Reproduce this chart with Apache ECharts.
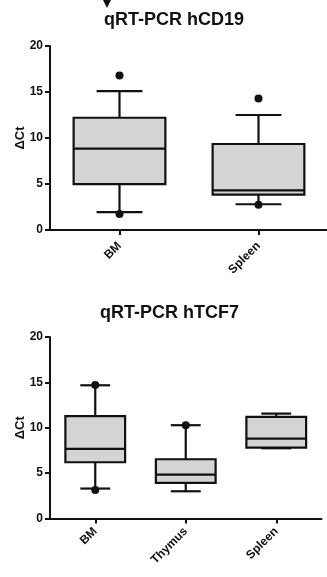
<!DOCTYPE html>
<html>
<head>
<meta charset="utf-8">
<script src="https://cdn.jsdelivr.net/npm/echarts@6/dist/echarts.min.js"></script>
<style>
  html, body { margin: 0; padding: 0; background: #fff; }
  #chart { width: 327px; height: 577px; }
</style>
</head>
<body>
<div id="chart"></div>
<script>
// hCD19 panel
const cd19Cats = ['BM', 'Spleen'];
const cd19Low = [1.95, 2.8];
const cd19Q1 = [4.98, 3.85];
const cd19Med = [8.84, 4.3];
const cd19Q3 = [12.2, 9.35];
const cd19High = [15.1, 12.5];
const cd19Dots = [['BM', 16.8], ['BM', 1.73], ['Spleen', 14.3], ['Spleen', 2.74]];

// hTCF7 panel
const tcf7Cats = ['BM', 'Thymus', 'Spleen'];
const tcf7Low = [3.3, 3.0, 7.74];
const tcf7Q1 = [6.2, 3.92, 7.82];
const tcf7Med = [7.67, 4.84, 8.81];
const tcf7Q3 = [11.27, 6.53, 11.19];
const tcf7High = [14.68, 10.28, 11.56];
const tcf7Dots = [['BM', 14.7], ['BM', 3.15], ['Thymus', 10.28]];

const yTicks = [0, 5, 10, 15, 20];

const font = 'Liberation Sans, Arial, sans-serif';
const ink = '#111';

function boxRows (cats, lo, q1, med, q3, hi) {
    return cats.map((c, i) => [i, lo[i], q1[i], med[i], q3[i], hi[i]]);
}

// draws one box with half-width whisker caps
function renderBox (params, api) {
    const x = api.value(0);
    const lo = api.coord([x, api.value(1)]);
    const q1 = api.coord([x, api.value(2)]);
    const med = api.coord([x, api.value(3)]);
    const q3 = api.coord([x, api.value(4)]);
    const hi = api.coord([x, api.value(5)]);
    const bw = api.size([1, 0])[0] * 0.66;
    const cx = lo[0];
    const half = bw / 2;
    const cap = bw / 4;
    const st = { stroke: ink, lineWidth: 2.2, fill: null };
    return {
        type: 'group',
        children: [
            { type: 'line', shape: { x1: cx, y1: hi[1], x2: cx, y2: q3[1] }, style: st },
            { type: 'line', shape: { x1: cx, y1: q1[1], x2: cx, y2: lo[1] }, style: st },
            { type: 'line', shape: { x1: cx - cap, y1: hi[1], x2: cx + cap, y2: hi[1] }, style: st },
            { type: 'line', shape: { x1: cx - cap, y1: lo[1], x2: cx + cap, y2: lo[1] }, style: st },
            {
                type: 'rect',
                shape: { x: cx - half, y: q3[1], width: bw, height: q1[1] - q3[1] },
                style: { fill: '#d4d4d4', stroke: ink, lineWidth: 2.2 }
            },
            { type: 'line', shape: { x1: cx - half, y1: med[1], x2: cx + half, y2: med[1] }, style: st }
        ]
    };
}

function yAxisFor (gridIndex) {
    return {
        type: 'value',
        gridIndex: gridIndex,
        min: 0,
        max: 20,
        interval: 5,
        name: 'ΔCt',
        nameLocation: 'middle',
        nameGap: 23,
        nameMoveOverlap: false,
        nameRotate: 90,
        nameTextStyle: { fontFamily: font, fontWeight: 'bold', fontSize: 13, color: ink },
        splitLine: { show: false },
        axisLine: { show: true, lineStyle: { color: ink, width: 2 } },
        axisTick: { show: true, length: 5, lineStyle: { color: ink, width: 2 } },
        axisLabel: {
            fontFamily: font, fontWeight: 'bold', fontSize: 12, color: ink, margin: 7,
            formatter: v => (yTicks.indexOf(v) >= 0 ? String(v) : '')
        }
    };
}

function xAxisFor (gridIndex, cats, labelMargin) {
    return {
        type: 'category',
        gridIndex: gridIndex,
        data: cats,
        axisLine: { show: true, lineStyle: { color: ink, width: 2 } },
        axisTick: { show: true, alignWithLabel: true, length: 5, lineStyle: { color: ink, width: 2 } },
        axisLabel: {
            fontFamily: font, fontWeight: 'bold', fontSize: 12, color: ink,
            rotate: 45, interval: 0, margin: labelMargin
        },
        splitLine: { show: false }
    };
}

const chart = echarts.init(document.getElementById('chart'), null, { renderer: 'canvas' });

const option = {
    backgroundColor: '#fff',
    animation: false,
    title: [
        {
            text: 'qRT-PCR hCD19', left: 104, top: 11, padding: 0,
            textStyle: { fontFamily: font, fontWeight: 'bold', fontSize: 18, color: ink }
        },
        {
            text: 'qRT-PCR hTCF7', left: 100, top: 304, padding: 0,
            textStyle: { fontFamily: font, fontWeight: 'bold', fontSize: 18, color: ink }
        }
    ],
    graphic: [
        // cut-off arrow head at the top edge
        { type: 'polygon', shape: { points: [[103, 0], [111, 0], [107, 8]] }, style: { fill: ink } }
    ],
    grid: [
        { left: 50, top: 46, width: 278, height: 184, containLabel: false, outerBoundsMode: 'none' },
        { left: 50, top: 337, width: 271.5, height: 181.5, containLabel: false, outerBoundsMode: 'none' }
    ],
    xAxis: [xAxisFor(0, cd19Cats, 14), xAxisFor(1, tcf7Cats, 11)],
    yAxis: [yAxisFor(0), yAxisFor(1)],
    series: [
        {
            type: 'custom', xAxisIndex: 0, yAxisIndex: 0,
            renderItem: renderBox,
            encode: { x: 0, y: [1, 2, 3, 4, 5] },
            data: boxRows(cd19Cats, cd19Low, cd19Q1, cd19Med, cd19Q3, cd19High)
        },
        {
            type: 'scatter', xAxisIndex: 0, yAxisIndex: 0,
            symbolSize: 8, itemStyle: { color: ink, opacity: 1 }, z: 5,
            data: cd19Dots
        },
        {
            type: 'custom', xAxisIndex: 1, yAxisIndex: 1,
            renderItem: renderBox,
            encode: { x: 0, y: [1, 2, 3, 4, 5] },
            data: boxRows(tcf7Cats, tcf7Low, tcf7Q1, tcf7Med, tcf7Q3, tcf7High)
        },
        {
            type: 'scatter', xAxisIndex: 1, yAxisIndex: 1,
            symbolSize: 8, itemStyle: { color: ink, opacity: 1 }, z: 5,
            data: tcf7Dots
        }
    ]
};

chart.setOption(option);
</script>
</body>
</html>
